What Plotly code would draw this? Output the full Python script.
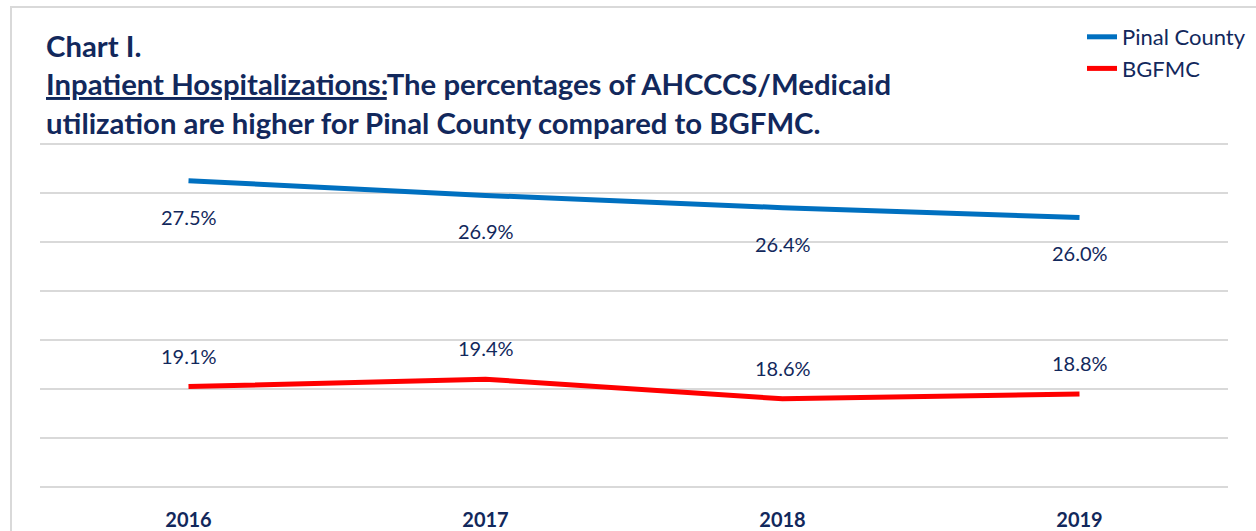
import plotly.graph_objects as go

years = ["2016", "2017", "2018", "2019"]
pinal = [27.5, 26.9, 26.4, 26.0]
bgfmc = [19.1, 19.4, 18.6, 18.8]
series_names = ["Pinal County", "BGFMC"]

NAVY = "#12285c"
FONT = "Lato"

W, H = 1256, 531
L, R, T, B = 40, 28, 142, 42
PW, PH = W - L - R, H - T - B


def px_x(x):
    return (x - L) / PW


def px_y(y):
    return (H - B - y) / PH


fig = go.Figure()
fig.add_trace(go.Scatter(x=years, y=pinal, mode="lines", name=series_names[0],
                         line=dict(color="#0070c0", width=5)))
fig.add_trace(go.Scatter(x=years, y=bgfmc, mode="lines", name=series_names[1],
                         line=dict(color="#ff0000", width=5)))

ann = []
for i, v in enumerate(pinal):
    ann.append(dict(xref="x", yref="y", x=i, y=v, text=f"{v:.1f}%", showarrow=False,
                    yshift=-36, font=dict(size=20, color=NAVY, family=FONT)))
for i, v in enumerate(bgfmc):
    ann.append(dict(xref="x", yref="y", x=i, y=v, text=f"{v:.1f}%", showarrow=False,
                    yshift=31, font=dict(size=20, color=NAVY, family=FONT)))

title_lines = [
    ("<b>Chart I.</b>", 45),
    ("<b><u>Inpatient Hospitalizations:</u>The percentages of AHCCCS/Medicaid</b>", 84),
    ("<b>utilization are higher for Pinal County compared to BGFMC.</b>", 122),
]
for txt, yc in title_lines:
    ann.append(dict(xref="paper", yref="paper", x=px_x(44), y=px_y(yc),
                    xanchor="left", yanchor="middle", align="left", showarrow=False,
                    text=txt, font=dict(size=29.3, color=NAVY, family=FONT)))

fig.update_layout(
    width=W, height=H,
    margin=dict(l=L, r=R, t=T, b=B, autoexpand=False),
    paper_bgcolor="white", plot_bgcolor="white",
    font=dict(family=FONT, color=NAVY),
    annotations=ann,
    showlegend=True,
    legend=dict(xref="container", yref="container", x=1082 / W, y=1 - 16 / H,
                xanchor="left", yanchor="top",
                font=dict(size=22, color=NAVY, family=FONT),
                bgcolor="rgba(0,0,0,0)", tracegroupgap=0),
    xaxis=dict(type="category", range=[-0.5, 3.5], showgrid=False, zeroline=False,
               showline=False, ticks="", ticklabelstandoff=17, automargin=False,
               tickfont=dict(size=20, color=NAVY, family=FONT),
               tickprefix="<b>", ticksuffix="</b>"),
    yaxis=dict(range=[14.92, 29.08], dtick=2, tick0=15, showgrid=True, gridcolor="#d9d9d9",
               gridwidth=2, zeroline=False, showticklabels=False, ticks="",
               automargin=False),
    shapes=[dict(type="rect", xref="paper", yref="paper",
                 x0=px_x(11), x1=px_x(1300), y0=px_y(560), y1=px_y(7),
                 line=dict(color="#d9d9d9", width=2), fillcolor="rgba(0,0,0,0)",
                 layer="below")],
)

fig.write_html("out.html", config={"displayModeBar": False},
               post_script="document.body.style.margin='0';")
